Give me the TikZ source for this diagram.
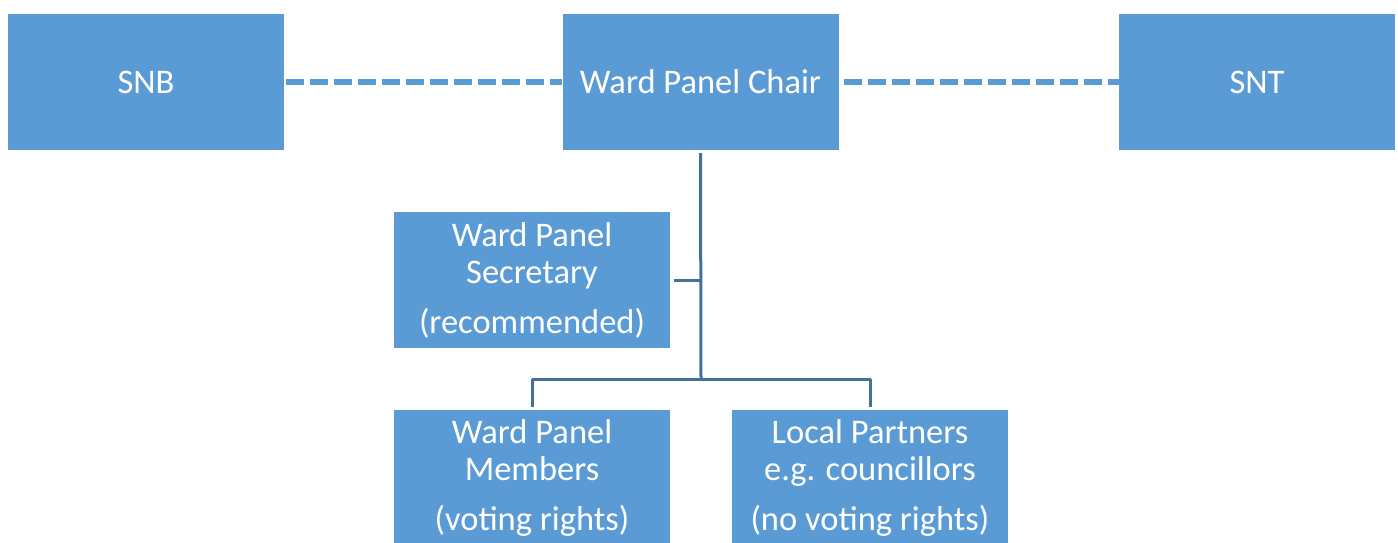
\documentclass[tikz,border=0pt]{standalone}
\usepackage{fontspec}
\setmainfont{Carlito}
\definecolor{boxblue}{HTML}{5B9BD5}
\definecolor{treeblue}{HTML}{41719C}
\tikzset{
  panelbox/.style={fill=boxblue, text=white, minimum width=276pt, minimum height=136pt,
    inner sep=0pt, align=center, font=\fontsize{34.5}{37}\selectfont},
  dashlink/.style={boxblue, line width=5.5pt, dash pattern=on 18pt off 6pt},
  treelink/.style={treeblue, line width=3pt}
}
\begin{document}
\begin{tikzpicture}[x=1pt, y=1pt, line join=round]
	% Khung
	\useasboundingbox (0,0) rectangle (1398,-542);
	% Hàng trên
	\node[panelbox] (snb) at (146,-82) {SNB};
	\node[panelbox] (chair) at (700.5,-82) {Ward Panel Chair};
	\node[panelbox] (snt) at (1257,-82) {SNT};
	% Thư ký
	\node[panelbox] (secretary) at (532,-280) {Ward Panel\\Secretary\\[13pt](recommended)};
	% Hàng dưới
	\node[panelbox] (members) at (532,-478) {Ward Panel\\Members\\[13pt](voting rights)};
	\node[panelbox] (partners) at (870,-478) {Local Partners\\e.g. councillors\\[13pt](no voting rights)};
	% Điểm rẽ nhánh
	\coordinate (fork) at (701,-379);
	% Nét đứt
	\draw[dashlink, shorten <=2pt] (snb.east) -- (chair.west);
	\draw[dashlink, shorten <=5pt] (chair.east) -- (snt.west);
	% Cây
	\draw[treelink, shorten <=3pt] (chair.south) -- (fork);
	\draw[treelink, shorten <=4pt] (secretary.east) -- (secretary.east -| fork);
	\draw[treelink, shorten <=3pt, shorten >=3pt] (members.north) |- (fork) -| (partners.north);
\end{tikzpicture}
\end{document}
